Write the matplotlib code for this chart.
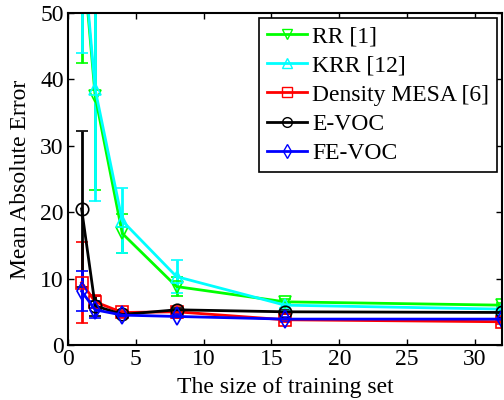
import numpy as np
import matplotlib
matplotlib.use('Agg')
import matplotlib.pyplot as plt
from matplotlib.lines import Line2D

plt.rcParams['font.family'] = ['Liberation Serif', 'DejaVu Serif']

x = [1, 2, 4, 8, 16, 32]

# mean absolute error values
rr = [61.0, 37.5, 16.8, 8.8, 6.5, 6.0]
rr_err = [18.5, 14.2, 3.0, 1.4, 0.4, 0.3]
krr = [62.0, 38.5, 18.7, 10.3, 6.0, 5.4]
krr_err = [18.0, 16.8, 4.9, 2.5, 0.4, 0.3]
mesa = [9.4, 6.5, 4.9, 5.0, 3.8, 3.5]
mesa_err = [6.1, 1.0, 0.4, 0.3, 0.3, 0.3]
evoc = [20.5, 5.9, 4.6, 5.3, 5.0, 4.9]
evoc_err = [11.7, 1.5, 0.3, 0.3, 0.3, 0.3]
fevoc = [8.1, 5.3, 4.5, 4.3, 3.9, 3.9]
fevoc_err = [3.0, 1.3, 0.3, 0.3, 0.3, 0.3]

labels = ['RR [1]', 'KRR [12]', 'Density MESA [6]', 'E-VOC', 'FE-VOC']
series = [rr, krr, mesa, evoc, fevoc]
errors = [rr_err, krr_err, mesa_err, evoc_err, fevoc_err]
colors = ['#00ff00', '#00ffff', '#ff0000', '#000000', '#0000ff']
markers = ['v', '^', 's', 'o', 'd']

fig = plt.figure(figsize=(5.04, 4.0), dpi=100)
ax = fig.add_axes([0.135, 0.1375, 0.861, 0.83])

handles = []
for y, e, c, m, lab in zip(series, errors, colors, markers, labels):
    ax.errorbar(x, y, yerr=e, color=c, lw=2, marker=m, markersize=9,
                markerfacecolor='none', markeredgewidth=1.2, capsize=4,
                elinewidth=2, capthick=2)
    handles.append(Line2D([], [], color=c, lw=2, marker=m, markersize=7,
                          markerfacecolor='none', markeredgewidth=1.0, label=lab))

ax.set_xlim(0, 32)
ax.set_ylim(0, 50)
ax.set_xticks([0, 5, 10, 15, 20, 25, 30])
ax.set_yticks([0, 10, 20, 30, 40, 50])
ax.tick_params(direction='in', top=True, right=True, labelsize=17, length=4, width=1, pad=3)
for s in ax.spines.values():
    s.set_linewidth(1.5)
ax.set_xlabel('The size of training set', fontsize=17)
ax.set_ylabel('Mean Absolute Error', fontsize=17)
ax.xaxis.set_label_coords(0.5, -0.097)
ax.yaxis.set_label_coords(-0.085, 0.5)

leg = ax.legend(handles=handles, loc='upper right', fontsize=17, fancybox=False,
                edgecolor='black', framealpha=1, handlelength=1.7, handletextpad=0.2,
                labelspacing=0.32, borderaxespad=0.2, borderpad=0.35)
leg.get_frame().set_linewidth(1.2)

fig.savefig('out.png', dpi=100)
